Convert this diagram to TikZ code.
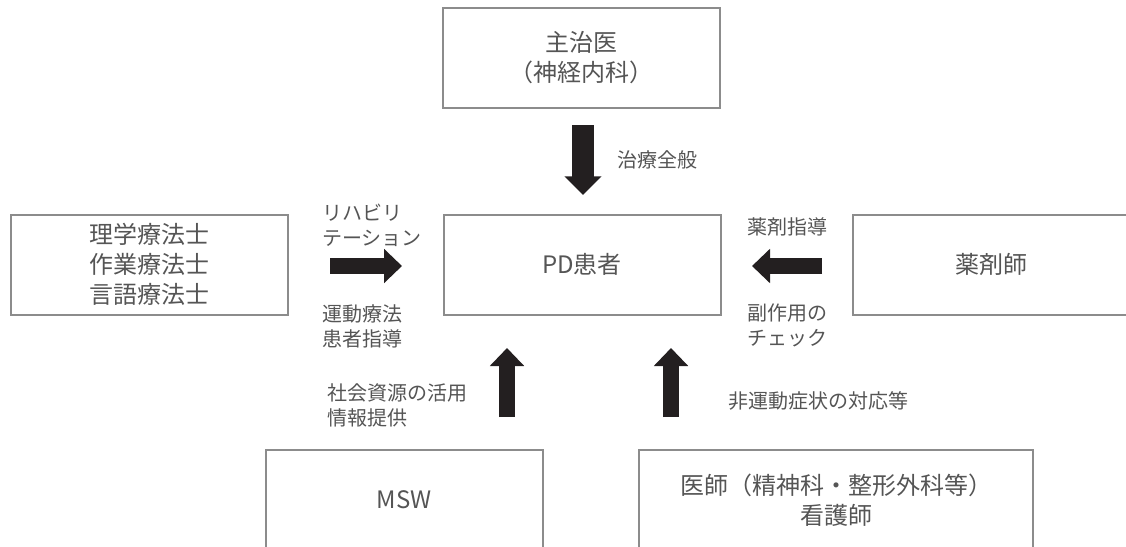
\documentclass[tikz,border=0pt]{standalone}
\usepackage{fontspec}
\setmainfont{Noto Sans CJK JP}
\usetikzlibrary{arrows.meta}
\definecolor{boxgray}{HTML}{8C8C8C}
\definecolor{txtgray}{HTML}{555555}
\definecolor{arrblack}{HTML}{231F20}
\begin{document}
\begin{tikzpicture}[x=0.75pt,y=-0.75pt,
 box/.style={draw=boxgray,line width=1.5pt,minimum width=207.75pt,minimum height=75pt,text=txtgray,font=\fontsize{18}{22.5}\selectfont,align=center,inner sep=0pt},
 lbl/.style={text=txtgray,font=\fontsize{15}{18.75}\selectfont,align=left,inner sep=0pt,anchor=west},
 blk/.style={draw=arrblack,line width=12pt,-{Triangle[width=25pt,length=13.5pt]}}]
\path[use as bounding box] (0,0) rectangle (1126,546);
\clip (0,0) rectangle (1126,546);

\node[box] (top) at (581.5,58) {主治医\\（神経内科）};
\node[box] (pd) at (582,264.5) {PD患者};
\node[box] (left) at (149,264.5) {理学療法士\\作業療法士\\言語療法士};
\node[box] (right) at (991,264.5) {薬剤師};
\node[box] (msw) at (404,500) {MSW};
\node[box,minimum width=295.5pt] (doc) at (836,500) {医師（精神科・整形外科等）\\看護師};

\coordinate (d1) at (583,125);
\coordinate (d2) at (583,195);
\coordinate (r1) at (330,266);
\coordinate (r2) at (402,266);
\coordinate (l1) at (822,266);
\coordinate (l2) at (752,266);
\coordinate (u1a) at (507,417);
\coordinate (u1b) at (507,348);
\coordinate (u2a) at (671,417);
\coordinate (u2b) at (671,348);

\draw[blk,line width=16.5pt,-{Triangle[width=27pt,length=14pt]}] (d1) -- (d2);
\draw[blk] (r1) -- (r2);
\draw[blk] (l1) -- (l2);
\draw[blk] (u1a) -- (u1b);
\draw[blk] (u2a) -- (u2b);

\node[lbl] (t1) at (617,160) {治療全般};
\node[lbl] (t2) at (322,225) {リハビリ\\テーション};
\node[lbl] (t3) at (322,326) {運動療法\\患者指導};
\node[lbl] (t4) at (747,227) {薬剤指導};
\node[lbl] (t5) at (747,325) {副作用の\\チェック};
\node[lbl] (t6) at (327,405) {社会資源の活用\\情報提供};
\node[lbl] (t7) at (728,401) {非運動症状の対応等};
\end{tikzpicture}
\end{document}
